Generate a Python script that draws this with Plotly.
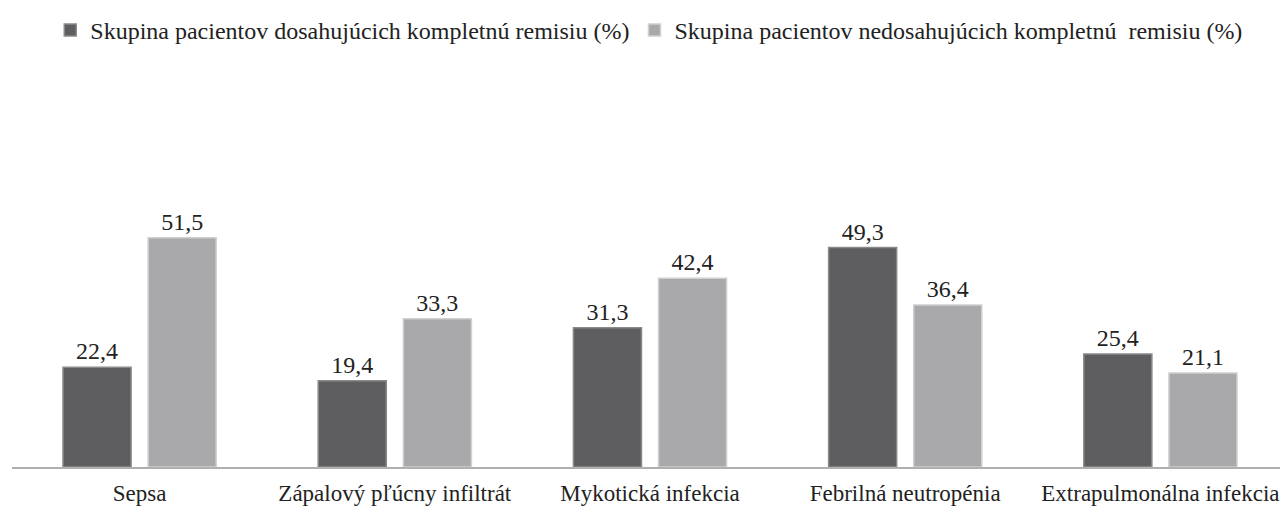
import plotly.graph_objects as go

categories = ["Sepsa", "Zápalový pľúcny infiltrát", "Mykotická infekcia",
              "Febrilná neutropénia", "Extrapulmonálna infekcia"]
remisia = [22.4, 19.4, 31.3, 49.3, 25.4]
bez_remisie = [51.5, 33.3, 42.4, 36.4, 21.1]
series_names = ["Skupina pacientov dosahujúcich kompletnú remisiu (%)",
                "Skupina pacientov nedosahujúcich kompletnú  remisiu (%)"]

font_family = "Times New Roman"

fig = go.Figure()
fig.add_trace(go.Bar(
    x=categories, y=remisia, name=series_names[0],
    marker=dict(color="#5e5e61", line=dict(color="#8a8a8c", width=1.5)),
    texttemplate="%{y:.1f}", textposition="outside", cliponaxis=False,
    textfont=dict(size=24, color="#222222", family=font_family),
))
fig.add_trace(go.Bar(
    x=categories, y=bez_remisie, name=series_names[1],
    marker=dict(color="#a9a9ab", line=dict(color="#d0d0d2", width=1.5)),
    texttemplate="%{y:.1f}", textposition="outside", cliponaxis=False,
    textfont=dict(size=24, color="#222222", family=font_family),
))

fig.update_layout(
    width=1280, height=501,
    margin=dict(l=4, r=0, t=192, b=42),
    paper_bgcolor="white", plot_bgcolor="white",
    barmode="group", bargap=0.333, bargroupgap=0.2,
    separators=", ",
    font=dict(family=font_family, color="#222222", size=24),
    showlegend=True,
    legend=dict(orientation="h", x=0.03, y=1.0, yref="container",
                xanchor="left", yanchor="top",
                font=dict(size=24, family=font_family),
                itemwidth=30, traceorder="normal"),
    xaxis=dict(showline=True, linecolor="#b0b0b0", linewidth=2,
               ticks="", tickfont=dict(size=23, family=font_family),
               ticklabelstandoff=4, showgrid=False, automargin=False),
    yaxis=dict(range=[0, 60], visible=False, showgrid=False),
)

fig.write_html("out.html")
